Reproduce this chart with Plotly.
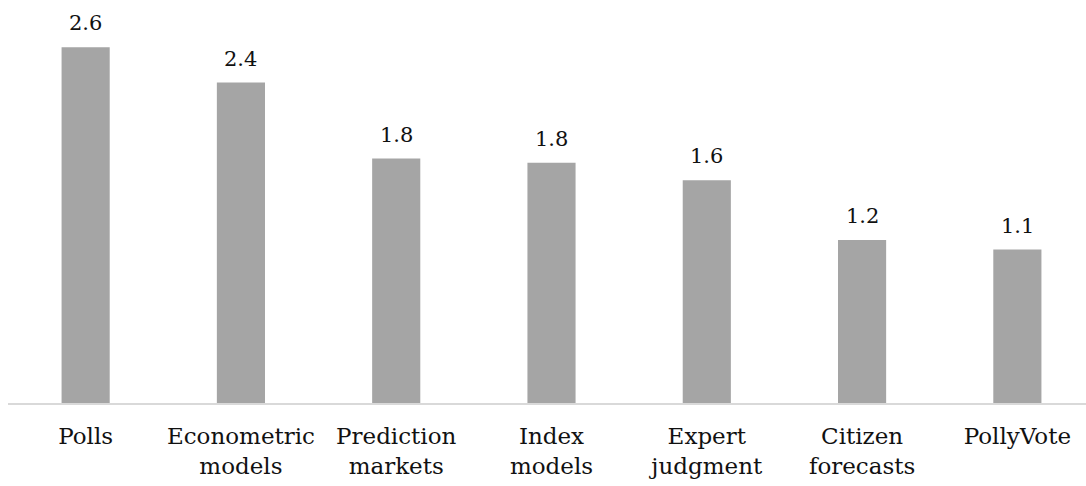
import plotly.graph_objects as go

# Mean absolute error by forecasting method
categories = ["Polls", "Econometric<br>models", "Prediction<br>markets", "Index<br>models",
              "Expert<br>judgment", "Citizen<br>forecasts", "PollyVote"]
values = [2.62, 2.36, 1.80, 1.77, 1.64, 1.20, 1.13]

FONT = "DejaVu Serif"
BAR_COLOR = "#a5a5a5"

fig = go.Figure(
    go.Bar(
        x=list(range(len(categories))),
        y=values,
        marker=dict(color=BAR_COLOR, line=dict(width=0)),
        width=0.31,
        hoverinfo="skip",
    )
)

# value labels above each bar
for i, v in enumerate(values):
    fig.add_annotation(
        x=i, y=v, text=f"{v:.1f}", showarrow=False,
        xanchor="center", yanchor="bottom", yshift=10,
        font=dict(family=FONT, size=21, color="#111111"),
    )

fig.update_layout(
    width=1086, height=486,
    margin=dict(l=8, r=0, t=0, b=83),
    paper_bgcolor="white", plot_bgcolor="white",
    showlegend=False,
    xaxis=dict(
        tickmode="array",
        tickvals=list(range(len(categories))),
        ticktext=categories,
        range=[-0.5, 6.442],
        showline=True, linecolor="#d9d9d9", linewidth=1.5,
        showgrid=False, zeroline=False, ticks="",
        tickfont=dict(family=FONT, size=23, color="#111111"),
        ticklabelstandoff=12,
    ),
    yaxis=dict(
        range=[0, 2.968],
        visible=False, showgrid=False, zeroline=False,
    ),
)

fig.write_html("out.html")
